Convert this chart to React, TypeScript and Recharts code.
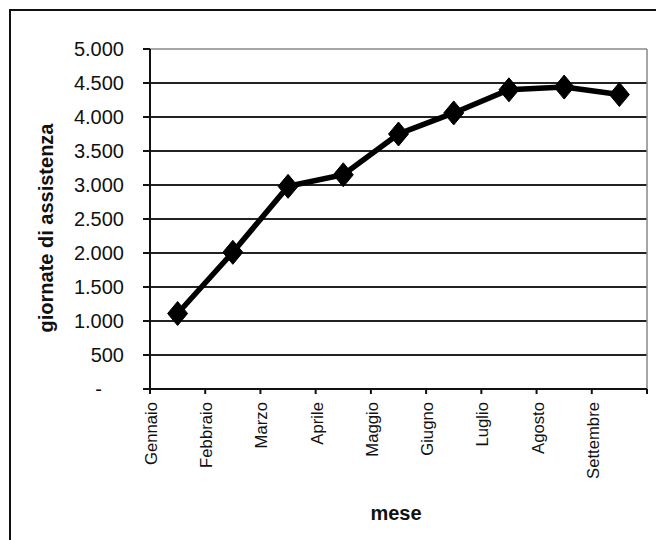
import React from "react";
import {
  LineChart,
  Line,
  XAxis,
  YAxis,
  CartesianGrid,
  ReferenceLine,
} from "recharts";

const months = [
  "Gennaio",
  "Febbraio",
  "Marzo",
  "Aprile",
  "Maggio",
  "Giugno",
  "Luglio",
  "Agosto",
  "Settembre",
];
const giornate = [1110, 2010, 2980, 3150, 3750, 4060, 4400, 4440, 4330];
const yTicks = [0, 500, 1000, 1500, 2000, 2500, 3000, 3500, 4000, 4500, 5000];
const xTicks = [0, 1, 2, 3, 4, 5, 6, 7, 8, 9];

const data = months.map((m, i) => ({ month: m, pos: i + 0.5, value: giornate[i] }));

const FONT = "'Liberation Sans', Arial, sans-serif";

const fmt = (v: number) =>
  String(v).replace(/\B(?=(\d{3})+(?!\d))/g, ".");

const YTick = (props: any) => {
  const { x, y, payload } = props;
  const v = payload.value as number;
  const dx = v === 0 ? -22 : 0;
  return (
    <text
      x={x + dx}
      y={y}
      dy="0.36em"
      textAnchor="end"
      fontFamily={FONT}
      fontSize={20}
      fill="#111"
    >
      {v === 0 ? "-" : fmt(v)}
    </text>
  );
};

const XTick = (props: any) => {
  const { x, payload } = props;
  const label = months[payload.value as number];
  if (!label) return null;
  const ty = 402;
  const tx = x + 7;
  return (
    <text
      x={tx}
      y={ty}
      textAnchor="end"
      fontFamily={FONT}
      fontSize={16.7}
      fill="#111"
      transform={`rotate(-90 ${tx} ${ty})`}
    >
      {label}
    </text>
  );
};

const Diamond = (props: any) => {
  const { cx, cy } = props;
  if (cx == null || cy == null) return null;
  const w = 10;
  const h = 12;
  return (
    <path
      d={`M${cx},${cy - h} L${cx + w},${cy} L${cx},${cy + h} L${cx - w},${cy} Z`}
      fill="#000"
      stroke="#000"
      strokeWidth={1}
    />
  );
};

export default function App() {
  return (
    <div
      style={{
        position: "fixed",
        left: 0,
        top: 0,
        width: 656,
        height: 540,
        background: "#fff",
        overflow: "hidden",
      }}
    >
      <div
        style={{
          position: "absolute",
          left: 9,
          top: 9,
          width: 660,
          height: 560,
          borderLeft: "2px solid #111",
          borderTop: "2px solid #111",
        }}
      />
      <div style={{ position: "absolute", left: 0, top: 0 }}>
        <LineChart
          width={656}
          height={540}
          data={data}
          margin={{ top: 49, right: 9, bottom: 0, left: 0 }}
        >
          <CartesianGrid
            horizontal={true}
            vertical={false}
            stroke="#222"
            strokeWidth={2}
            horizontalValues={yTicks.filter((t) => t > 0 && t < 5000)}
          />
          <ReferenceLine y={5000} stroke="#888" strokeWidth={1.5} />
          <ReferenceLine x={9} stroke="#888" strokeWidth={1.5} />
          <XAxis
            type="number"
            dataKey="pos"
            domain={[0, 9]}
            ticks={xTicks}
            interval={0}
            height={151}
            axisLine={{ stroke: "#111", strokeWidth: 2 }}
            tickLine={{ stroke: "#111", strokeWidth: 2 }}
            tickSize={5}
            tick={<XTick />}
            label={(p: any) => {
              const vb = p.viewBox;
              return (
                <text
                  x={396}
                  y={520}
                  textAnchor="middle"
                  fontFamily={FONT}
                  fontWeight="bold"
                  fontSize={20}
                  fill="#111"
                >
                  mese
                </text>
              );
            }}
          />
          <YAxis
            type="number"
            domain={[0, 5000]}
            ticks={yTicks}
            interval={0}
            width={150}
            axisLine={{ stroke: "#111", strokeWidth: 2 }}
            tickLine={{ stroke: "#111", strokeWidth: 2 }}
            tickSize={7}
            tickMargin={19}
            tick={<YTick />}
            label={() => {
              const cx = 53;
              const cy = 228;
              return (
                <text
                  x={cx}
                  y={cy}
                  textAnchor="middle"
                  fontFamily={FONT}
                  fontWeight="bold"
                  fontSize={20}
                  fill="#111"
                  transform={`rotate(-90 ${cx} ${cy})`}
                >
                  giornate di assistenza
                </text>
              );
            }}
          />
          <Line
            type="linear"
            dataKey="value"
            stroke="#000"
            strokeWidth={5.5}
            dot={<Diamond />}
            activeDot={false}
            isAnimationActive={false}
          />
        </LineChart>
      </div>
    </div>
  );
}
